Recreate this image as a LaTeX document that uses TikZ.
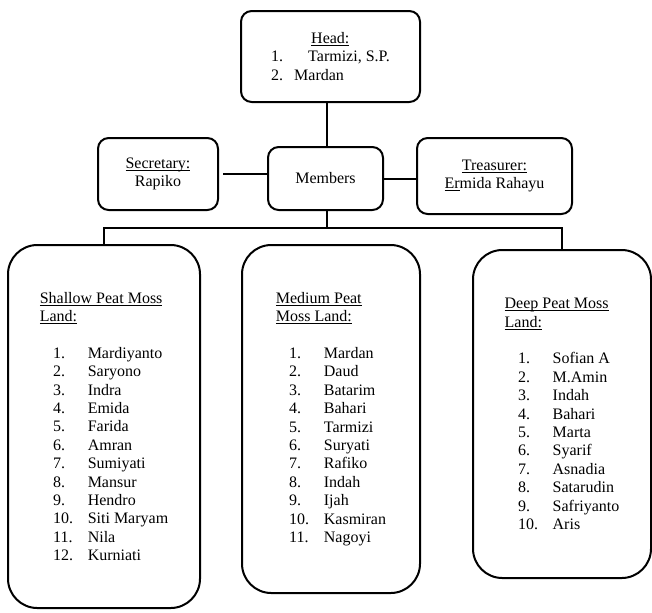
\documentclass[tikz,border=0pt]{standalone}
\usepackage{fontspec}
\setmainfont{Liberation Serif}
\newcommand{\landitem}[2]{\hspace*{10pt}\makebox[26pt][l]{#1}#2}
\newcommand{\ulinetext}[1]{\underline{\smash{#1}}\vphantom{#1}}
\begin{document}
\begin{tikzpicture}[x=0.75pt,y=-0.75pt,
  box/.style={draw, line width=1.5pt, rounded corners=8pt, inner sep=0pt,
    align=center, font=\fontsize{12pt}{13.8pt}\selectfont},
  landbox/.style={box, rounded corners=22pt, align=left},
  link/.style={line width=0.8pt},
  sidelink/.style={line width=1.5pt}]
\useasboundingbox (0,0) rectangle (652,612);

% top of the structure
\node[box, minimum width=134.25pt, minimum height=68.25pt, align=left] (head) at (330.5,56.5)
  {\hspace*{30pt}\ulinetext{Head:}\\
   \makebox[27.75pt][l]{1.}Tarmizi, S.P.\\
   \makebox[17.25pt][l]{2.}Mardan};

\node[box, minimum width=86.25pt, minimum height=47.25pt] (members) at (325.5,178.5) {Members};
\node[box, minimum width=90pt, minimum height=54pt] (secretary) at (158,174)
  {\ulinetext{Secretary:}\\Rapiko};
\node[box, minimum width=116.25pt, minimum height=57pt] (treasurer) at (494.5,176)
  {\ulinetext{Treasurer:}\\\ulinetext{Er}mida Rahayu};

% land groups
\node[landbox, minimum width=144pt, minimum height=272.25pt] (shallow) at (104,426.5)
  {\ulinetext{Shallow Peat Moss}\\
   \ulinetext{Land:}\\[13.8pt]
   \landitem{1.}{Mardiyanto}\\
   \landitem{2.}{Saryono}\\
   \landitem{3.}{Indra}\\
   \landitem{4.}{Emida}\\
   \landitem{5.}{Farida}\\
   \landitem{6.}{Amran}\\
   \landitem{7.}{Sumiyati}\\
   \landitem{8.}{Mansur}\\
   \landitem{9.}{Hendro}\\
   \landitem{10.}{Siti Maryam}\\
   \landitem{11.}{Nila}\\
   \landitem{12.}{Kurniati}};

\node[landbox, minimum width=133.5pt, minimum height=261pt] (medium) at (331,419)
  {\ulinetext{Medium Peat}\\
   \ulinetext{Moss Land:}\\[13.8pt]
   \landitem{1.}{Mardan}\\
   \landitem{2.}{Daud}\\
   \landitem{3.}{Batarim}\\
   \landitem{4.}{Bahari}\\
   \landitem{5.}{Tarmizi}\\
   \landitem{6.}{Suryati}\\
   \landitem{7.}{Rafiko}\\
   \landitem{8.}{Indah}\\
   \landitem{9.}{Ijah}\\
   \landitem{10.}{Kasmiran}\\
   \landitem{11.}{Nagoyi}};

\node[landbox, minimum width=133.5pt, minimum height=246pt] (deep) at (562,414)
  {\ulinetext{Deep Peat Moss}\\
   \ulinetext{Land:}\\[13.8pt]
   \landitem{1.}{Sofian A}\\
   \landitem{2.}{M.Amin}\\
   \landitem{3.}{Indah}\\
   \landitem{4.}{Bahari}\\
   \landitem{5.}{Marta}\\
   \landitem{6.}{Syarif}\\
   \landitem{7.}{Asnadia}\\
   \landitem{8.}{Satarudin}\\
   \landitem{9.}{Safriyanto}\\
   \landitem{10.}{Aris}};

% connectors
\coordinate (bus) at (327,228);
\draw[link] (members.north -| bus) ++(0,0) coordinate (mtop) (mtop |- head.south) -- (mtop);
\draw[sidelink] (secretary.east) ++(4,0) coordinate (sout) (sout) -- (members.west |- sout);
\draw[sidelink] (treasurer.west |- members.east) -- (members.east);
\draw[link] (members.south -| bus) -- (bus);
\draw[link] (shallow.north) |- (bus) -| (deep.north);
\end{tikzpicture}
\end{document}
